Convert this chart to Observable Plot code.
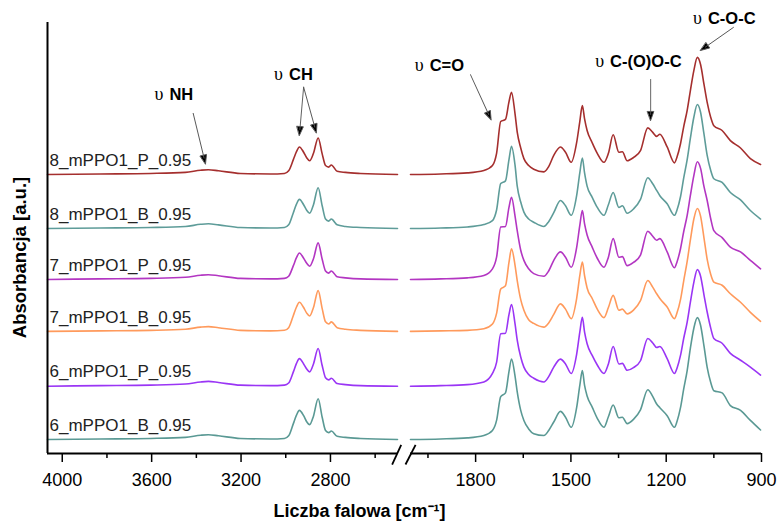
<!DOCTYPE html>
<html><head><meta charset="utf-8">
<script src="https://cdn.jsdelivr.net/npm/d3@7"></script>
<script src="https://cdn.jsdelivr.net/npm/@observablehq/plot@0.6"></script>
<style>body{margin:0;background:#fff} svg{display:block}</style>
</head><body><div id="chart"></div>
<script>
const seriesNames = ["8_mPPO1_P_0.95","8_mPPO1_B_0.95","7_mPPO1_P_0.95","7_mPPO1_B_0.95","6_mPPO1_P_0.95","6_mPPO1_B_0.95"];
const seriesColors = ["#a52f2e","#5e9c99","#b336c2","#ff9a5c","#9a35f5","#5a9994"];
const offsets = [5.0, 3.98, 3.02, 2.04, 1.006, 0];

const wnLeft = [4066,3829,3605,3449,3381,3346,3301,3203,3069,3006,2987,2966,2952,2939,2920,2907,2893,2876,2855,2837,2822,2808,2796,2770,2733,2666,2500];
const a8P_L = [0,0.01,0.02,0.04,0.08,0.09,0.07,0.02,0.01,0.02,0.07,0.28,0.43,0.52,0.42,0.32,0.26,0.40,0.69,0.39,0.17,0.14,0.18,0.06,0.04,0.02,0];
const a8B_L = [0,0.01,0.02,0.04,0.08,0.09,0.07,0.02,0.01,0.02,0.07,0.30,0.46,0.55,0.45,0.35,0.29,0.45,0.77,0.43,0.18,0.14,0.18,0.07,0.04,0.02,0];
const a7P_L = [0,0.01,0.02,0.04,0.08,0.09,0.07,0.02,0.01,0.02,0.06,0.26,0.41,0.50,0.40,0.31,0.25,0.39,0.69,0.38,0.16,0.12,0.16,0.05,0.03,0.01,0];
const a7B_L = [0,0.01,0.02,0.04,0.08,0.09,0.07,0.02,0.01,0.02,0.07,0.30,0.46,0.55,0.45,0.35,0.29,0.45,0.77,0.43,0.18,0.14,0.18,0.07,0.04,0.02,0];
const a6P_L = [0,0.01,0.02,0.04,0.08,0.09,0.07,0.02,0.01,0.02,0.06,0.27,0.43,0.52,0.42,0.33,0.27,0.42,0.71,0.39,0.16,0.12,0.15,0.05,0.03,0.01,0];
const a6B_L = [0,0.01,0.02,0.04,0.08,0.09,0.07,0.02,0.01,0.02,0.07,0.30,0.46,0.55,0.45,0.34,0.28,0.44,0.77,0.42,0.17,0.13,0.16,0.06,0.04,0.02,0];

const wnRight = [2005,1910,1826,1774,1747,1734,1721,1706,1695,1687,1676,1669,1658,1648,1633,1617,1585,1570,1554,1533,1517,1499,1482,1472,1464,1457,1449,1433,1417,1396,1382,1367,1349,1338,1323,1303,1281,1258,1243,1230,1220,1197,1174,1166,1155,1145,1134,1124,1113,1102,1092,1081,1071,1060,1050,1024,998,966,935,903];
const a8P_R = [0,0.01,0.03,0.075,0.17,0.40,1.00,1.04,1.37,1.55, 1.15,0.80,0.50,0.30,0.17,0.10,0.05,0.15,0.36,0.52, 0.42,0.23,0.60,1.00,1.30,1.05,0.83,0.60,0.40,0.23, 0.40,0.75,0.42,0.43,0.26,0.32,0.45,0.88,0.80,0.72, 0.76,0.52,0.22,0.33,0.58,0.90,1.21,1.58,1.96,2.21, 2.08,1.70,1.36,1.08,0.92,0.83,0.64,0.50,0.30,0.19];
const a8B_R = [0,0.01,0.03,0.075,0.15,0.35,0.85,0.90,1.30,1.55, 1.20,0.80,0.50,0.31,0.18,0.12,0.04,0.13,0.30,0.53, 0.43,0.25,0.62,1.05,1.33,1.05,0.80,0.59,0.40,0.25, 0.45,0.68,0.40,0.43,0.29,0.37,0.55,0.96,0.85,0.72, 0.62,0.47,0.25,0.35,0.60,0.95,1.30,1.70,2.10,2.34, 2.20,1.78,1.38,1.10,0.94,0.87,0.68,0.54,0.34,0.18];
const a7P_R = [0,0.01,0.03,0.075,0.20,0.42,0.99,1.00,1.36,1.55, 1.20,0.92,0.55,0.36,0.20,0.11,0.06,0.16,0.36,0.52, 0.42,0.23,0.60,1.02,1.30,1.05,0.84,0.61,0.40,0.23, 0.42,0.77,0.42,0.43,0.26,0.32,0.46,0.91,0.82,0.74, 0.77,0.52,0.22,0.33,0.58,0.90,1.21,1.58,1.96,2.22, 2.10,1.75,1.49,1.15,0.92,0.79,0.61,0.52,0.36,0.20];
const a7B_R = [0,0.01,0.02,0.05,0.14,0.34,0.80,0.86,1.30,1.56, 1.25,0.96,0.60,0.40,0.22,0.15,0.08,0.16,0.32,0.52, 0.42,0.24,0.62,1.05,1.31,1.05,0.82,0.62,0.42,0.26, 0.45,0.68,0.40,0.42,0.33,0.40,0.58,0.96,0.84,0.71, 0.62,0.46,0.24,0.35,0.60,0.95,1.32,1.72,2.12,2.32, 2.18,1.76,1.36,1.08,0.93,0.87,0.71,0.55,0.36,0.19];
const a6P_R = [0,0.01,0.03,0.08,0.24,0.45,0.99,1.00,1.35,1.54, 1.18,0.87,0.55,0.36,0.22,0.15,0.08,0.18,0.36,0.51, 0.42,0.24,0.60,1.02,1.30,1.02,0.80,0.58,0.40,0.24, 0.42,0.75,0.42,0.43,0.30,0.35,0.48,0.90,0.82,0.73, 0.75,0.52,0.24,0.34,0.58,0.90,1.21,1.58,1.96,2.20, 2.08,1.72,1.40,1.10,0.90,0.81,0.62,0.49,0.36,0.21];
const a6B_R = [0,0.01,0.03,0.075,0.17,0.36,0.81,0.88,1.28,1.52, 1.20,0.90,0.55,0.36,0.20,0.11,0.075,0.17,0.33,0.53, 0.42,0.23,0.60,1.02,1.30,1.02,0.82,0.61,0.40,0.23, 0.43,0.65,0.41,0.42,0.30,0.38,0.56,0.94,0.82,0.67, 0.60,0.45,0.23,0.34,0.60,0.95,1.30,1.72,2.10,2.30, 2.16,1.76,1.36,1.08,0.92,0.88,0.64,0.55,0.36,0.18];

const majorTicks = [4000,3600,3200,2800,1800,1500,1200,900];
const minorTicks = [3800,3400,3000,2600,1950,1650,1350,1050];

const bandLabels = ["NH","CH","C=O","C-(O)O-C","C-O-C"];
const bandLabelWn = [3534,2999,1954,1386,1078];
const bandLabelY = [6.51,6.887,7.057,7.132,7.943];

const arrowTipWn = [3359,2939,2863,1751,1249,1092];
const arrowTipY = [5.20,5.736,5.787,6.03,6.02,7.34];
const arrowAngle = [166.3,185,164.4,155.4,180,235];
const arrowLen = [52,48.5,47.3,49.8,41,40.2];

const leftVals = [a8P_L,a8B_L,a7P_L,a7B_L,a6P_L,a6B_L];
const rightVals = [a8P_R,a8B_R,a7P_R,a7B_R,a6P_R,a6B_R];

const rows = [];
seriesNames.forEach((name,i) => {
  wnLeft.forEach((w,j) => rows.push({series:name, key:name+"|L", wn:w, a:leftVals[i][j]+offsets[i]}));
  wnRight.forEach((w,j) => rows.push({series:name, key:name+"|R", wn:w, a:rightVals[i][j]+offsets[i]}));
});
const labelRows = seriesNames.map((name,i) => ({series:name, y:offsets[i]+0.27}));
const bands = bandLabels.map((t,i) => ({label:t, wn:bandLabelWn[i], y:bandLabelY[i]}));

const yDomain = [-0.264, 7.868];
const xDomain = [4066, 2500, 2005, 900];
const xRange = [47, 397, 410, 761];

const arrowShape = {draw(context, l) {
  context.moveTo(0, 0); context.lineTo(0, -l + 6);
  context.moveTo(0, -l); context.lineTo(-3.2, -l + 9); context.lineTo(3.2, -l + 9); context.closePath();
}};

const arrowMarks = arrowTipWn.map((w,i) => Plot.vector([{wn:w, y:arrowTipY[i]}], {
  x:"wn", y:"y", rotate: arrowAngle[i], length: arrowLen[i], anchor:"end",
  shape: arrowShape, stroke:"#555", fill:"#000", strokeWidth:0.9
}));

const breaks = [{x1:2524,y1:-0.472,x2:2359,y2:-0.10},{x1:2195,y1:-0.472,x2:1989,y2:-0.10}];

const plot = Plot.plot({
  width: 778, height: 522,
  marginTop: 22, marginBottom: 69, marginLeft: 47, marginRight: 17,
  style: {fontFamily: "'Liberation Sans', Arial, sans-serif", background: "#fff", color: "#000", overflow: "visible"},
  x: {type: "linear", domain: xDomain, range: xRange},
  y: {domain: yDomain, range: [453, 22], axis: null},
  color: {domain: seriesNames, range: seriesColors},
  marks: [
    Plot.line(rows, {x:"wn", y:"a", z:"key", stroke:"series", strokeWidth:1.6, curve:"monotone-x"}),
    Plot.text(labelRows, {x:4057, y:"y", text:"series", textAnchor:"start", fontSize:17, fill:"#222"}),
    Plot.ruleX([xDomain[0]], {y1:yDomain[0], y2:yDomain[1], strokeWidth:2}),
    Plot.ruleY([yDomain[0]], {x1:xDomain[0], x2:xDomain[1], strokeWidth:2}),
    Plot.ruleY([yDomain[0]], {x1:xDomain[2], x2:xDomain[3], strokeWidth:2}),
    Plot.link(breaks, {x1:"x1", y1:"y1", x2:"x2", y2:"y2", strokeWidth:1.8}),
    Plot.axisX(majorTicks, {tickSize:9, tickPadding:11, fontSize:18, tickFormat:d => String(d), label:null, strokeWidth:1.5}),
    Plot.axisX(minorTicks, {tickSize:5, tickFormat:() => "", label:null, strokeWidth:1.5}),
    Plot.text(bands, {x:"wn", y:"y", text:() => "\u03c5", textAnchor:"end", dx:-3, fontFamily:"'Liberation Serif', 'DejaVu Serif', serif", fontSize:18}),
    Plot.text(bands, {x:"wn", y:"y", text:"label", textAnchor:"start", dx:3, fontWeight:"bold", fontSize:16.5}),
    ...arrowMarks,
    Plot.text(["Absorbancja [a.u.]"], {x:4189, y:3.434, text:d => d, rotate:-90, fontWeight:"bold", fontSize:18.5}),
    Plot.text(["Liczba falowa [cm\u207b\u00b9]"], {x:2670, y:-1.36, text:d => d, fontWeight:"bold", fontSize:18})
  ]
});
document.getElementById("chart").append(plot);
</script>
</body></html>
